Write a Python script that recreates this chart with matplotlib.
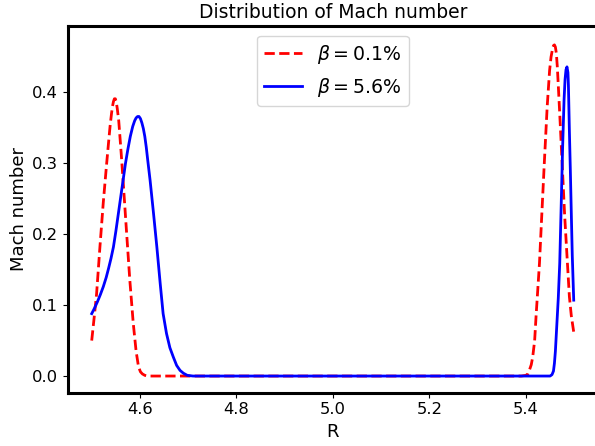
import matplotlib

matplotlib.use("Agg")
import matplotlib.pyplot as plt

# values
r_low = [4.500, 4.505, 4.510, 4.517, 4.524, 4.531, 4.535, 4.538, 4.541, 4.543,
         4.545, 4.547, 4.549, 4.551, 4.553, 4.556, 4.561, 4.565, 4.572, 4.579,
         4.586, 4.592, 4.597, 4.601, 4.605, 4.610, 4.616, 5.000, 5.390, 5.400,
         5.404, 5.407, 5.411, 5.414, 5.418, 5.421, 5.428, 5.433, 5.438, 5.444,
         5.449, 5.452, 5.455, 5.457, 5.459, 5.461, 5.463, 5.465, 5.467, 5.470,
         5.475, 5.480, 5.485, 5.490, 5.494, 5.499]
mach_low = [0.050, 0.082, 0.115, 0.182, 0.245, 0.300, 0.330, 0.352, 0.370, 0.380,
            0.387, 0.391, 0.391, 0.386, 0.377, 0.360, 0.315, 0.276, 0.205, 0.135,
            0.075, 0.035, 0.013, 0.006, 0.003, 0.001, 0.000, 0.000, 0.000, 0.001,
            0.003, 0.008, 0.016, 0.027, 0.050, 0.085, 0.159, 0.230, 0.300, 0.380,
            0.431, 0.450, 0.461, 0.466, 0.467, 0.464, 0.455, 0.436, 0.410, 0.370,
            0.300, 0.229, 0.170, 0.112, 0.085, 0.062]

r_high = [4.500, 4.506, 4.512, 4.518, 4.524, 4.530, 4.535, 4.540, 4.545, 4.550,
          4.555, 4.560, 4.565, 4.570, 4.575, 4.580, 4.585, 4.589, 4.592, 4.595,
          4.598, 4.601, 4.604, 4.607, 4.610, 4.613, 4.616, 4.621, 4.628, 4.635,
          4.642, 4.648, 4.655, 4.662, 4.669, 4.676, 4.683, 4.690, 4.698, 4.710,
          5.000, 5.450, 5.454, 5.457, 5.459, 5.461, 5.463, 5.465, 5.467, 5.470,
          5.473, 5.476, 5.479, 5.481, 5.483, 5.485, 5.487, 5.488, 5.490, 5.492,
          5.494, 5.496, 5.499]
mach_high = [0.088, 0.096, 0.105, 0.115, 0.126, 0.139, 0.152, 0.166, 0.182, 0.204,
             0.228, 0.252, 0.276, 0.300, 0.320, 0.338, 0.352, 0.360, 0.364, 0.366,
             0.366, 0.363, 0.357, 0.349, 0.338, 0.323, 0.305, 0.276, 0.230, 0.182,
             0.130, 0.088, 0.060, 0.040, 0.027, 0.015, 0.008, 0.004, 0.001, 0.000,
             0.000, 0.000, 0.002, 0.007, 0.018, 0.035, 0.060, 0.085, 0.110, 0.159,
             0.240, 0.323, 0.390, 0.418, 0.432, 0.436, 0.428, 0.410, 0.346, 0.290,
             0.229, 0.170, 0.107]

labels = [r"$\beta = 0.1\%$", r"$\beta = 5.6\%$"]

fig = plt.figure(figsize=(5.95, 4.46), dpi=100)
# right edge falls just past the canvas, as in the reference
ax = fig.add_axes([0.1136, 0.1195, 0.892, 0.822])

ax.plot(r_low, mach_low, "--", color="red", lw=2, label=labels[0])
ax.plot(r_high, mach_high, "-", color="blue", lw=2, label=labels[1])

ax.set_xlim(4.45, 5.55)
ax.set_ylim(-0.0235, 0.4935)
ax.set_title("Distribution of Mach number", fontsize=13.5)
ax.set_xlabel("R", fontsize=13)
ax.set_ylabel("Mach number", fontsize=13, labelpad=2.5)
ax.tick_params(labelsize=11.8)
ax.set_xticks([4.6, 4.8, 5.0, 5.2, 5.4])
ax.set_yticks([0.0, 0.1, 0.2, 0.3, 0.4])
for side in ax.spines.values():
    side.set_linewidth(2.2)

ax.legend(loc="upper center", fontsize=13.6)

fig.savefig("out.png", dpi=100)
plt.close(fig)
